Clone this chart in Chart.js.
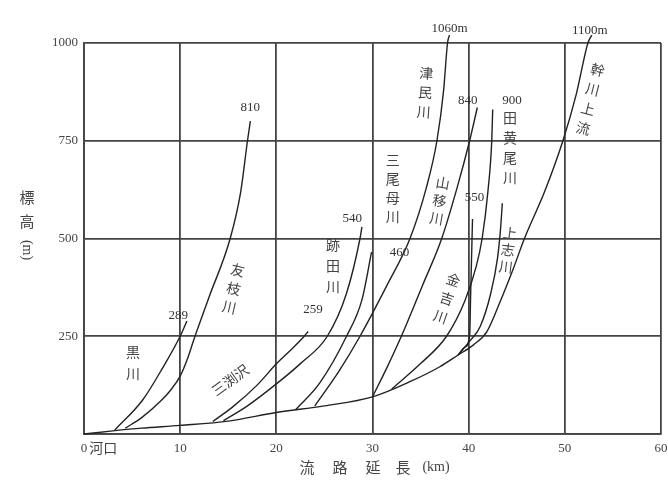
<!DOCTYPE html>
<html>
<head>
<meta charset="utf-8">
<script src="https://cdn.jsdelivr.net/npm/chart.js@4/dist/chart.umd.min.js"></script>
<style>
  html, body { margin: 0; padding: 0; background: #fff; }
</style>
</head>
<body>
<canvas id="chart" width="668" height="488"></canvas>
<script>
// 目盛り
const kmTicks = [0, 10, 20, 30, 40, 50, 60];
const elevTicks = [0, 250, 500, 750, 1000];

// 幹川（河口 → 上流 1100m）
const mainKm = [0, 3, 6, 10, 15, 20, 25, 30, 34, 37, 38.9, 40.5, 41.9, 43.3, 44.6, 45.8, 47.9, 49.8, 51.2, 52.4, 52.8];
const mainM  = [0, 8, 15, 22, 33, 55, 72, 95, 135, 172, 202, 228, 262, 340, 420, 500, 620, 750, 870, 1000, 1020];

// 黒川 289m
const kuroKm = [3.2, 6.1, 8.2, 10.0, 10.7];
const kuroM  = [10, 87, 170, 250, 289];

// 友枝川 810m
const tomoKm = [4.3, 6.0, 8.0, 9.0, 10.0, 10.8, 11.4, 13.0, 15.2, 16.3, 17.0, 17.3];
const tomoM  = [15, 42, 85, 112, 148, 195, 240, 350, 500, 620, 750, 800];

// 三渕沢 259m
const mibuKm = [13.4, 15.5, 18.0, 20.1, 21.8, 22.9, 23.3];
const mibuM  = [32, 70, 125, 182, 222, 250, 262];

// 跡田川 540m
const atoKm = [14.5, 17.0, 20.1, 22.5, 25.3, 27.3, 28.7, 28.9];
const atoM  = [34, 72, 130, 180, 250, 360, 500, 530];

// 三尾母川 460m
const mioKm = [22, 24.5, 27.3, 28.9, 29.9];
const mioM  = [62, 130, 250, 343, 465];

// 津民川 1060m
const tsutKm = [24, 26.5, 28.7, 31.5, 33.9, 35.6, 36.7, 37.4, 37.8, 38.0];
const tsutM  = [72, 160, 250, 380, 500, 630, 750, 880, 1000, 1020];

// 山移川 840m
const yamaKm = [30, 31.6, 33.0, 35.2, 37.2, 38.8, 40.1, 40.9];
const yamaM  = [95, 175, 250, 380, 500, 630, 750, 835];

// 900m の支川
const taKm = [32, 35, 37.7, 39.6, 40.8, 41.4, 42.0, 42.4, 42.5];
const taM  = [115, 180, 250, 340, 430, 500, 620, 750, 830];

// 金吉川 550m
const kaneKm = [38.9, 39.6, 40.1, 40.2, 40.3, 40.4];
const kaneM  = [202, 222, 250, 350, 450, 550];

// 上志川
const kamiKm = [38.9, 40.2, 41.2, 42.3, 43.0, 43.3, 43.5];
const kamiM  = [202, 240, 275, 360, 450, 520, 590];

const rivers = [
  [mainKm, mainM], [kuroKm, kuroM], [tomoKm, tomoM], [mibuKm, mibuM],
  [atoKm, atoM], [mioKm, mioM], [tsutKm, tsutM], [yamaKm, yamaM],
  [taKm, taM], [kaneKm, kaneM], [kamiKm, kamiM],
];

const serif = "'Liberation Serif', 'DejaVu Serif', serif";
const cjk = "'Noto Sans CJK JP', sans-serif";
const textColor = "#444";

// 縦書きラベル（一文字ずつ）
function vtext(ctx, x, y, str, km, m, step, deg) {
  const px = x.getPixelForValue(km);
  const py = y.getPixelForValue(m);
  const a = deg * Math.PI / 180;
  ctx.save();
  ctx.font = "14px " + cjk;
  ctx.fillStyle = textColor;
  ctx.textAlign = "center";
  ctx.textBaseline = "middle";
  [...str].forEach((ch, i) => {
    ctx.save();
    ctx.translate(px - Math.sin(a) * step * i, py + Math.cos(a) * step * i);
    ctx.rotate(a);
    ctx.fillText(ch, 0, 0);
    ctx.restore();
  });
  ctx.restore();
}

function num(ctx, x, y, str, km, m) {
  ctx.save();
  ctx.font = "13px " + serif;
  ctx.fillStyle = "#333";
  ctx.textAlign = "center";
  ctx.textBaseline = "middle";
  ctx.fillText(str, x.getPixelForValue(km), y.getPixelForValue(m));
  ctx.restore();
}

const labelPlugin = {
  id: "labels",
  afterDraw(chart) {
    const { ctx, scales: { x, y } } = chart;

    num(ctx, x, y, "289", 9.8, 304);
    num(ctx, x, y, "810", 17.3, 834);
    num(ctx, x, y, "259", 23.8, 317);
    num(ctx, x, y, "540", 27.9, 552);
    num(ctx, x, y, "460", 32.8, 465);
    num(ctx, x, y, "1060m", 38.0, 1038);
    num(ctx, x, y, "840", 39.9, 854);
    num(ctx, x, y, "900", 44.5, 854);
    num(ctx, x, y, "550", 40.6, 604);
    num(ctx, x, y, "1100m", 52.6, 1033);

    vtext(ctx, x, y, "黒川", 5.1, 210, 22, 0);
    vtext(ctx, x, y, "友枝川", 16.0, 419, 19, 13);
    vtext(ctx, x, y, "跡田川", 25.9, 483, 21, 0);
    vtext(ctx, x, y, "三尾母川", 32.1, 701, 19, 0);
    vtext(ctx, x, y, "津民川", 35.6, 923, 19.5, 4);
    vtext(ctx, x, y, "山移川", 37.3, 642, 18, 10);
    vtext(ctx, x, y, "金吉川", 38.4, 394, 19.5, 19);
    vtext(ctx, x, y, "田黄尾川", 44.3, 808, 20, 0);
    vtext(ctx, x, y, "上志川", 44.3, 514, 17, 7);
    vtext(ctx, x, y, "幹川上流", 53.4, 931, 20, 14);

    // 三渕沢（斜め横書き）
    ctx.save();
    ctx.font = "14px " + cjk;
    ctx.fillStyle = textColor;
    ctx.textAlign = "center";
    ctx.textBaseline = "middle";
    ctx.translate(x.getPixelForValue(15.2), y.getPixelForValue(138));
    ctx.rotate(-36 * Math.PI / 180);
    ctx.fillText("三渕沢", 0, 0);
    ctx.restore();

    // 河口
    ctx.save();
    ctx.font = "14px " + cjk;
    ctx.fillStyle = textColor;
    ctx.textAlign = "center";
    ctx.textBaseline = "middle";
    ctx.fillText("河口", x.getPixelForValue(2.0), y.bottom + 14);
    ctx.restore();

    // 軸タイトル
    ctx.save();
    ctx.font = "15px " + cjk;
    ctx.fillStyle = textColor;
    ctx.textAlign = "center";
    ctx.textBaseline = "middle";
    const ty = y.bottom + 33;
    [["流", 307], ["路", 340], ["延", 373], ["長", 403]].forEach(([c, px]) => ctx.fillText(c, px, ty));
    ctx.font = "14px " + serif;
    ctx.fillText("(km)", 436, ty);
    ctx.font = "15px " + cjk;
    ctx.fillText("標", 27, 197);
    ctx.fillText("高", 27, 221);
    ctx.translate(27, 250);
    ctx.rotate(Math.PI / 2);
    ctx.font = "14px " + serif;
    ctx.fillText("(m)", 0, 0);
    ctx.restore();
  },
};

new Chart(document.getElementById("chart"), {
  type: "scatter",
  data: {
    datasets: rivers.map(([kms, ms]) => ({
      data: kms.map((k, i) => ({ x: k, y: ms[i] })),
      showLine: true,
      borderColor: "#222",
      borderWidth: 1.4,
      pointRadius: 0,
      cubicInterpolationMode: "monotone",
      clip: false,
    })),
  },
  options: {
    responsive: false,
    animation: false,
    devicePixelRatio: 1,
    layout: { padding: { top: 43, right: 7 } },
    plugins: { legend: { display: false }, tooltip: { enabled: false } },
    scales: {
      x: {
        type: "linear",
        min: kmTicks[0],
        max: kmTicks[kmTicks.length - 1],
        afterBuildTicks: (s) => { s.ticks = kmTicks.map((v) => ({ value: v })); },
        afterFit: (s) => { s.height = 54; s.paddingRight = 0; s.paddingLeft = 0; },
        grid: { color: "#444", lineWidth: 1.8, drawTicks: false },
        border: { color: "#444", width: 1.8 },
        ticks: { padding: 7, color: "#444", font: { family: serif, size: 13 } },
      },
      y: {
        type: "linear",
        min: elevTicks[0],
        max: elevTicks[elevTicks.length - 1],
        afterBuildTicks: (s) => { s.ticks = elevTicks.map((v) => ({ value: v })); },
        afterFit: (s) => { s.width = 84; s.paddingTop = 0; s.paddingBottom = 0; },
        grid: { color: "#444", lineWidth: 1.8, drawTicks: false },
        border: { color: "#444", width: 1.8 },
        ticks: {
          padding: 6,
          color: "#444",
          font: { family: serif, size: 13 },
          callback: (v) => (v === 0 ? "" : v),
        },
      },
    },
  },
  plugins: [labelPlugin],
});
</script>
</body>
</html>
